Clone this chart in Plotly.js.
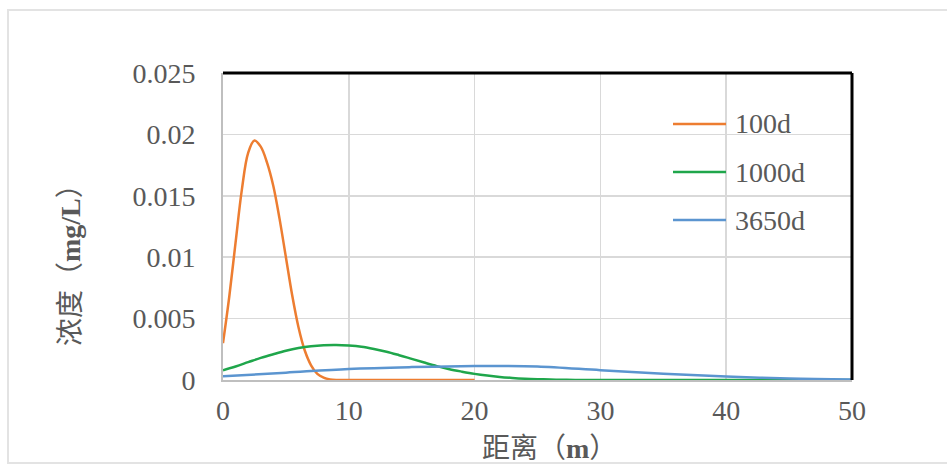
<!DOCTYPE html>
<html>
<head>
<meta charset="utf-8">
<script src="https://cdn.plot.ly/plotly-3.0.1.min.js"></script>
<style>html,body{margin:0;padding:0;background:#fff;}#chart{width:947px;height:466px;}</style>
</head>
<body>
<div id="chart"></div>
<script>
// ---- data ----
var seriesNames = ["100d", "1000d", "3650d"];
var seriesColors = ["#ED7D31", "#1FA64B", "#5B95D0"];

var x100 = [0,0.5,1,1.5,2,2.5,3,3.5,4,4.5,5,5.5,6,6.5,7,7.5,8,8.5,9,10,12,14,16,18,20];
var y100 = [0.0030,0.0068,0.0112,0.0155,0.0185,0.0195,0.0190,0.0177,0.0158,0.0131,0.0100,0.0069,0.0043,0.0024,0.0012,0.0005,0.0002,0.00005,0,0,0,0,0,0,0];

var x1000 = [0,1,2,3,4,5,6,7,8,9,10,11,12,13,14,15,16,17,18,19,20,21,22,23,24,25,26,27,28,30,35,40,45,50];
var y1000 = [0.0008,0.0011,0.00145,0.0018,0.0021,0.00238,0.0026,0.00275,0.00283,0.00285,0.0028,0.0027,0.00252,0.0023,0.00202,0.00172,0.00142,0.00113,0.00088,0.00068,0.0005,0.00036,0.00025,0.00017,0.00011,0.00007,0.00004,0.00002,0.00001,0,0,0,0,0];

var x3650 = [0,5,10,15,20,22,25,30,35,40,45,50];
var y3650 = [0.0003,0.0006,0.0009,0.00105,0.00113,0.00115,0.0011,0.0008,0.0005,0.00028,0.00012,0.00004];

var xTickVals = [0,10,20,30,40,50];
var yTickVals = [0,0.005,0.01,0.015,0.02,0.025];
var yTickText = ["0","0.005","0.01","0.015","0.02","0.025"];

var xTitle = "距离（<b>m</b>）";
var yTitle = "浓度（<b>mg/L</b>）";

// ---- layout helpers (pixel -> paper) ----
var L = 223, R = 852, T = 73, B = 380;
function px(p){ return (p - L) / (R - L); }
function py(p){ return (B - p) / (B - T); }

var xs = [x100, x1000, x3650];
var ys = [y100, y1000, y3650];
var traces = seriesNames.map(function(n, i){
  return {x: xs[i], y: ys[i], name: n, type: 'scatter', mode: 'lines',
    line: {color: seriesColors[i], width: 2.5, shape: 'spline', smoothing: 1},
    showlegend: false, hoverinfo: 'skip'};
});

var serifFont = 'Liberation Serif, Times New Roman, serif';
var tickFont = {family: serifFont, size: 28, color: '#595959'};
var legFont = {family: serifFont, size: 28, color: '#595959'};

var shapes = [
  {type:'rect', xref:'paper', yref:'paper', x0:px(8), x1:px(960), y0:py(463), y1:py(10),
   line:{color:'#E3E3E3', width:2}, layer:'below'},
  {type:'line', xref:'paper', yref:'paper', x0:0, x1:1, y0:1, y1:1, line:{color:'#000', width:3}},
  {type:'line', xref:'paper', yref:'paper', x0:1, x1:1, y0:0, y1:1, line:{color:'#000', width:3}}
];

var annotations = [
  {xref:'paper', yref:'paper', x:px(549), y:py(448), text:xTitle, showarrow:false,
   xanchor:'center', yanchor:'middle',
   font:{family:'Liberation Serif, Noto Sans CJK SC', size:28, color:'#595959'}},
  {xref:'paper', yref:'paper', x:px(70), y:py(258), text:yTitle, showarrow:false, textangle:-90,
   xanchor:'center', yanchor:'middle',
   font:{family:'Liberation Serif, Noto Sans CJK SC', size:28, color:'#595959'}}
];

var legendY = [124, 172, 220];
seriesNames.forEach(function(n, i){
  shapes.push({type:'line', xref:'paper', yref:'paper', x0:px(673), x1:px(726), y0:py(legendY[i]), y1:py(legendY[i]),
    line:{color:seriesColors[i], width:2.5}});
  annotations.push({xref:'paper', yref:'paper', x:px(733), y:py(legendY[i]), text:n, showarrow:false,
    xanchor:'left', yanchor:'middle', font:legFont});
});

var layout = {
  width: 947, height: 466,
  margin: {l: L, r: 947 - R, t: T, b: 466 - B, pad: 0},
  paper_bgcolor: '#fff', plot_bgcolor: '#fff',
  showlegend: false,
  xaxis: {range: [0, 50], tickvals: xTickVals, showgrid: true, gridcolor: '#D9D9D9', gridwidth: 1.5,
    zeroline: false, showline: true, linecolor: '#BFBFBF', linewidth: 2,
    ticks: '', tickfont: tickFont, ticklabelstandoff: 4, fixedrange: true},
  yaxis: {range: [0, 0.025], tickvals: yTickVals, ticktext: yTickText, showgrid: true, gridcolor: '#D9D9D9', gridwidth: 1.5,
    zeroline: false, showline: true, linecolor: '#BFBFBF', linewidth: 2,
    ticks: '', tickfont: tickFont, ticklabelstandoff: 20, fixedrange: true},
  shapes: shapes,
  annotations: annotations
};

Plotly.newPlot('chart', traces, layout, {displayModeBar: false, staticPlot: true});
</script>
</body>
</html>
